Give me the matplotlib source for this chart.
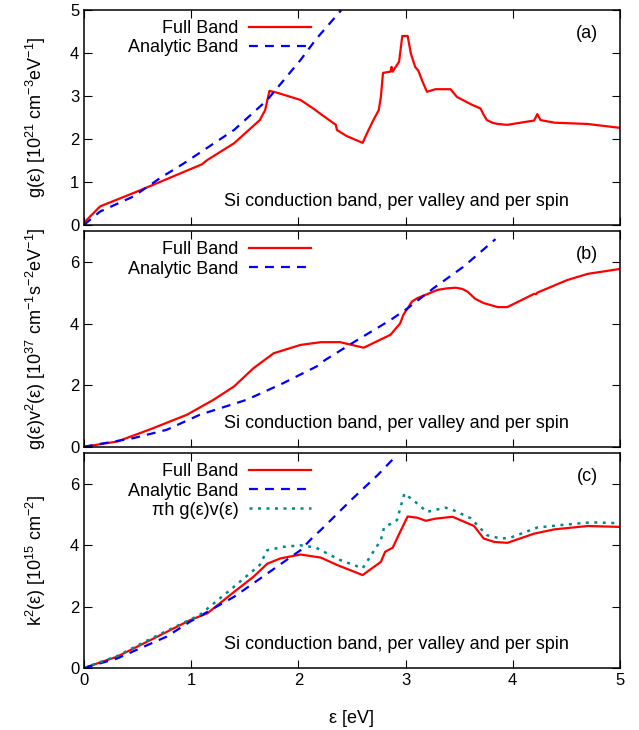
import numpy as np
import matplotlib
matplotlib.use("Agg")
import matplotlib.pyplot as plt

plt.rcParams['font.family'] = ['Liberation Sans', 'DejaVu Sans']
plt.rcParams['mathtext.fontset'] = 'custom'
plt.rcParams['mathtext.rm'] = 'Liberation Sans'
plt.rcParams['mathtext.it'] = 'Liberation Sans'
plt.rcParams['font.size'] = 13
plt.rcParams['xtick.labelsize'] = 12
plt.rcParams['ytick.labelsize'] = 12

# (a) density of states g(E) [1e21 cm^-3 eV^-1]
e_a_full = [0.0, 0.15, 0.46, 0.71, 1.10, 1.15, 1.40, 1.64, 1.69, 1.73, 1.80, 2.02, 2.14, 2.21,
            2.35, 2.36, 2.45, 2.60, 2.64, 2.70, 2.75, 2.77, 2.79, 2.86, 2.87, 2.88, 2.94, 2.97,
            3.02, 3.05, 3.09, 3.12, 3.16, 3.20, 3.28, 3.42, 3.48, 3.61, 3.70, 3.73, 3.76, 3.81,
            3.86, 3.95, 4.20, 4.23, 4.26, 4.39, 4.70, 5.0]
g_a_full = [0.05, 0.43, 0.74, 1.0, 1.41, 1.51, 1.90, 2.44, 2.67, 3.12, 3.08, 2.91, 2.71, 2.58,
            2.33, 2.21, 2.07, 1.91, 2.13, 2.44, 2.67, 2.98, 3.54, 3.57, 3.68, 3.57, 3.80, 4.40,
            4.40, 3.99, 3.68, 3.59, 3.33, 3.10, 3.16, 3.16, 2.98, 2.81, 2.71, 2.56, 2.44, 2.38,
            2.35, 2.33, 2.43, 2.58, 2.44, 2.38, 2.35, 2.26]
e_a_ana = [0.0, 0.15, 0.46, 0.71, 0.93, 1.40, 1.71, 2.02, 2.17, 2.40]
g_a_ana = [0.0, 0.31, 0.66, 1.09, 1.43, 2.21, 2.91, 3.84, 4.34, 5.0]

# (b) g(E) v^2(E) [1e37 cm^-1 s^-2 eV^-1]
e_b_full = [0.0, 0.31, 0.62, 0.96, 1.21, 1.40, 1.58, 1.77, 2.02, 2.21, 2.39, 2.61, 2.86, 2.95,
            2.98, 3.02, 3.06, 3.11, 3.30, 3.39, 3.47, 3.53, 3.58, 3.65, 3.73, 3.86, 3.95, 4.20,
            4.22, 4.23, 4.51, 4.70, 5.0]
gv2_b_full = [0.0, 0.17, 0.57, 1.04, 1.53, 1.96, 2.55, 3.04, 3.31, 3.40, 3.40, 3.22, 3.64, 4.01,
              4.29, 4.50, 4.72, 4.83, 5.10, 5.15, 5.17, 5.13, 5.04, 4.81, 4.67, 4.54, 4.54, 4.97,
              4.96, 5.01, 5.42, 5.62, 5.78]
e_b_ana = [0.0, 0.46, 0.77, 1.08, 1.52, 1.86, 2.17, 2.25, 2.55, 2.86, 3.02, 3.26, 3.54, 3.84]
gv2_b_ana = [0.0, 0.28, 0.55, 1.04, 1.53, 2.07, 2.61, 2.82, 3.47, 4.12, 4.50, 5.15, 5.85, 6.75]

# (c) k^2(E) [1e15 cm^-2]
e_c_full = [0.0, 0.31, 0.62, 0.99, 1.15, 1.40, 1.58, 1.71, 1.83, 2.02, 2.21, 2.36, 2.60, 2.77,
            2.81, 2.88, 2.95, 3.02, 3.11, 3.19, 3.28, 3.44, 3.64, 3.73, 3.83, 3.95, 4.20, 4.39,
            4.70, 5.0]
k2_c_full = [0.0, 0.37, 0.91, 1.56, 1.78, 2.48, 2.97, 3.40, 3.57, 3.70, 3.60, 3.36, 3.03, 3.46,
             3.79, 3.92, 4.44, 4.94, 4.90, 4.80, 4.87, 4.93, 4.63, 4.22, 4.11, 4.08, 4.38, 4.52,
             4.63, 4.60]
e_c_gv = [0.0, 0.31, 0.62, 1.08, 1.40, 1.64, 1.71, 1.86, 2.02, 2.16, 2.21, 2.39, 2.60, 2.77,
          2.80, 2.92, 2.99, 3.09, 3.20, 3.37, 3.45, 3.61, 3.76, 3.89, 3.98, 4.23, 4.45, 4.73, 5.0]
k2_c_gv = [0.0, 0.39, 0.95, 1.73, 2.65, 3.36, 3.84, 3.95, 4.0, 3.93, 3.84, 3.52, 3.25, 4.17,
           4.58, 4.82, 5.69, 5.42, 5.09, 5.23, 5.14, 4.88, 4.33, 4.22, 4.25, 4.58, 4.66, 4.75, 4.72]
e_c_ana = [0.0, 0.31, 0.77, 0.99, 1.40, 1.71, 2.02, 2.14, 2.21, 2.49, 2.74, 2.88]
k2_c_ana = [0.0, 0.31, 1.02, 1.51, 2.32, 3.08, 3.84, 4.28, 4.50, 5.47, 6.29, 6.80]

ylabels = [r'g(ε) [10$^{21}$ cm$^{-3}$eV$^{-1}$]',
           r'g(ε)v$^{2}$(ε) [10$^{37}$ cm$^{-1}$s$^{-2}$eV$^{-1}$]',
           r'k$^{2}$(ε) [10$^{15}$ cm$^{-2}$]']
tags = ['(a)', '(b)', '(c)']
note = 'Si conduction band, per valley and per spin'

fig = plt.figure(figsize=(6.39, 7.30), dpi=100)
left, width = 0.1315, 0.8385
axa = fig.add_axes([left, 0.692, width, 0.294])
axb = fig.add_axes([left, 0.388, width, 0.295])
axc = fig.add_axes([left, 0.085, width, 0.294])

dash = (4, 3.2)
dot = (1.2, 2.2)

axa.plot(e_a_full, g_a_full, color='red', lw=1.6, label='Full Band')
axa.plot(e_a_ana, g_a_ana, color='blue', lw=1.6, dashes=dash, label='Analytic Band')
axb.plot(e_b_full, gv2_b_full, color='red', lw=1.6, label='Full Band')
axb.plot(e_b_ana, gv2_b_ana, color='blue', lw=1.6, dashes=dash, label='Analytic Band')
axc.plot(e_c_full, k2_c_full, color='red', lw=1.6, label='Full Band')
axc.plot(e_c_ana, k2_c_ana, color='blue', lw=1.6, dashes=dash, label='Analytic Band')
axc.plot(e_c_gv, k2_c_gv, color='#008b8b', lw=1.8, dashes=dot, label='πh g(ε)v(ε)')

axa.set_ylim(0, 5)
axa.set_yticks([0, 1, 2, 3, 4, 5])
for ax in (axb, axc):
    ax.set_ylim(0, 7)
    ax.set_yticks([0, 2, 4, 6])

for ax, lab, tag in zip((axa, axb, axc), ylabels, tags):
    ax.set_xlim(0, 5)
    ax.set_xticks([0, 1, 2, 3, 4, 5])
    ax.tick_params(direction='in', length=6, top=True, right=True, width=0.8)
    for s in ax.spines.values():
        s.set_linewidth(1.1)
    ax.set_ylabel(lab, labelpad=16)
    ax.text(0.96, 0.893, tag, transform=ax.transAxes, ha='right', va='center')
    ax.text(0.905, 0.11, note, transform=ax.transAxes, ha='right', va='center')
    ax.legend(loc='upper right', bbox_to_anchor=(0.43, 0.97), frameon=False,
              markerfirst=False, handlelength=3.4, handletextpad=0.6,
              labelspacing=0.12, borderaxespad=0.0, borderpad=0.2)
    if ax is not axc:
        ax.set_xticklabels([])

axc.set_xlabel('ε [eV]', labelpad=16)

fig.savefig('out.png', dpi=100)
